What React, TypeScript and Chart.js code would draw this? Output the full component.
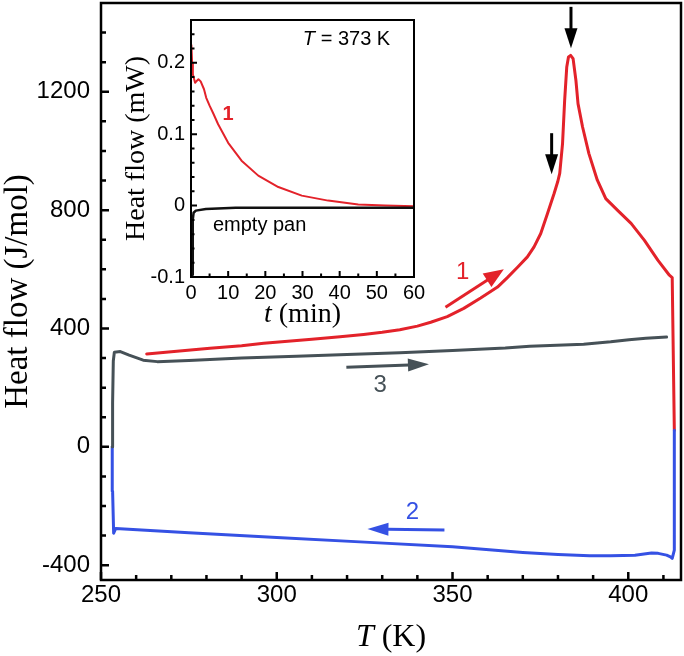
import React, { useEffect, useRef } from 'react';
import { Chart, registerables } from 'chart.js';

Chart.register(...registerables);

const RED = '#e3222a';
const BLUE = '#3551e4';
const GRAY = '#465157';
const SANS = "'Liberation Sans', Arial, sans-serif";
const SERIF = "'Liberation Serif', 'Times New Roman', serif";

// ---- main chart: curve 1 (heating, red)
const heatT = [263.0, 270, 281, 290, 296.3, 310, 318, 324.7, 330, 335, 340, 343.8, 348.5, 353.2, 358.0, 362.8, 365.6, 368.5, 371.3, 373.2, 375.1, 377.0, 378.9, 379.9, 380.5, 381.3, 381.9, 382.5, 383.0, 383.6, 384.3, 385.1, 385.7, 387.0, 388.8, 391.2, 393.6, 396.9, 400.8, 404.6, 408.4, 411.7, 412.5, 413.1];
const heatQ = [314, 321, 333, 342, 350, 364, 372, 380, 387, 396, 408, 421, 440, 468, 503, 540, 572, 607, 642, 676, 721, 788, 856, 895, 924, 1025, 1171, 1284, 1318, 1323, 1312, 1239, 1160, 1081, 991, 901, 839, 800, 755, 698, 631, 580, 572, 56];

// ---- curve 2 (cooling, blue)
const coolT = [413.1, 413.1, 412.5, 412.0, 410.9, 408.5, 406.6, 404.5, 401.9, 395, 389, 380, 370, 350, 325, 300, 275, 254.2, 253.6, 253.3, 253.2];
const coolQ = [56, -349, -377, -372, -366, -360, -359, -362, -366, -368, -368, -364, -357, -338, -322, -306, -290, -276, -292, -150, 0];

// ---- curve 3 (second heating, gray)
const reheatT = [253.2, 253.3, 253.5, 253.8, 255.5, 258, 262, 266, 275, 290, 305.6, 320, 335, 350, 365, 372, 387.3, 395, 400.2, 405, 410.9];
const reheatQ = [0, 150, 290, 320, 322, 310, 293, 288, 292, 300, 306, 312, 318, 326, 334, 340, 347, 355, 362, 367, 371];

const mainXTicks = [250, 300, 350, 400];
const mainXMinor = [260, 270, 280, 290, 310, 320, 330, 340, 360, 370, 380, 390, 410];
const mainYTicks = [-400, 0, 400, 800, 1200];
const mainYMinor = [-300, -200, -100, 100, 200, 300, 500, 600, 700, 900, 1000, 1100, 1300, 1400];

// ---- inset: isothermal at 373 K
const insetT1 = [0.1, 0.3, 0.5, 1.1, 1.6, 2.0, 2.6, 3.5, 4.1, 5.0, 6.0, 7.3, 10, 13.6, 18.1, 23.5, 29.8, 36.9, 45, 52.2, 60];
const insetQ1 = [0.225, 0.2, 0.184, 0.172, 0.175, 0.177, 0.174, 0.163, 0.151, 0.14, 0.129, 0.114, 0.088, 0.063, 0.042, 0.026, 0.014, 0.007, 0.0015, 0.0, -0.001];
const insetT0 = [0.4, 0.45, 0.5, 0.7, 1.3, 4, 12, 20, 30, 40, 50, 60];
const insetQ0 = [-0.097, -0.06, -0.02, -0.01, -0.007, -0.0046, -0.003, -0.003, -0.003, -0.003, -0.003, -0.003];

const insetXTicks = [0, 10, 20, 30, 40, 50, 60];
const insetXMinor = [5, 15, 25, 35, 45, 55];
const insetYTicks = [-0.1, 0, 0.1, 0.2];
const insetYMinor = [-0.08, -0.06, -0.04, -0.02, 0.02, 0.04, 0.06, 0.08, 0.12, 0.14, 0.16, 0.18, 0.22, 0.24];

// annotation arrows (data coordinates)
const mainArrows = [
  { from: [348.0, 472], to: [364.6, 600], color: RED, head: 20, half: 8 },
  { from: [319.8, 269], to: [343.3, 279], color: GRAY, head: 21, half: 6.5 },
  { from: [347.7, -281], to: [325.8, -278], color: BLUE, head: 21, half: 6.5 },
  { from: [383.7, 1487], to: [383.7, 1347], color: '#000', head: 20, half: 6.5 },
  { from: [378.2, 1060], to: [378.2, 921], color: '#000', head: 20, half: 6.5 },
];
const mainLabels = [
  { text: '1', at: [352.9, 590], color: RED },
  { text: '3', at: [329.4, 208], color: GRAY },
  { text: '2', at: [338.6, -221], color: BLUE },
];

type Part = { t: string; it?: boolean };

function drawRich(ctx: CanvasRenderingContext2D, parts: Part[], x: number, y: number, size: number, family: string, align: 'left' | 'center', color: string, rot = 0, weight = 'normal') {
  ctx.save();
  ctx.translate(x, y);
  ctx.rotate(rot);
  ctx.fillStyle = color;
  ctx.textBaseline = 'middle';
  ctx.textAlign = 'left';
  const fonts = parts.map((p) => `${p.it ? 'italic' : 'normal'} ${weight} ${size}px ${family}`);
  const widths = parts.map((p, i) => {
    ctx.font = fonts[i];
    return ctx.measureText(p.t).width;
  });
  const total = widths.reduce((a, b) => a + b, 0);
  let cx = align === 'center' ? -total / 2 : 0;
  parts.forEach((p, i) => {
    ctx.font = fonts[i];
    ctx.fillText(p.t, cx, 0);
    cx += widths[i];
  });
  ctx.restore();
}

function drawArrow(ctx: CanvasRenderingContext2D, x1: number, y1: number, x2: number, y2: number, color: string, lw: number, hl: number, hw: number) {
  const ang = Math.atan2(y2 - y1, x2 - x1);
  const bx = x2 - hl * Math.cos(ang);
  const by = y2 - hl * Math.sin(ang);
  ctx.strokeStyle = color;
  ctx.lineWidth = lw;
  ctx.beginPath();
  ctx.moveTo(x1, y1);
  ctx.lineTo(bx + Math.cos(ang), by + Math.sin(ang));
  ctx.stroke();
  ctx.fillStyle = color;
  ctx.beginPath();
  ctx.moveTo(x2, y2);
  ctx.lineTo(bx + hw * Math.sin(ang), by - hw * Math.cos(ang));
  ctx.lineTo(bx - hw * Math.sin(ang), by + hw * Math.cos(ang));
  ctx.closePath();
  ctx.fill();
}

function drawFrameTicks(chart: any, lw: number, majX: number[], minX: number[], majY: number[], minY: number[], majLen: number, minLen: number) {
  const { ctx, chartArea: a, scales } = chart;
  const sx = scales.x;
  const sy = scales.y;
  ctx.save();
  ctx.strokeStyle = '#000';
  ctx.lineWidth = lw;
  ctx.lineCap = 'butt';
  ctx.strokeRect(a.left, a.top, a.right - a.left, a.bottom - a.top);
  ctx.beginPath();
  const tx = (v: number, len: number) => {
    const p = sx.getPixelForValue(v);
    ctx.moveTo(p, a.bottom);
    ctx.lineTo(p, a.bottom - len);
  };
  const ty = (v: number, len: number) => {
    const p = sy.getPixelForValue(v);
    ctx.moveTo(a.left, p);
    ctx.lineTo(a.left + len, p);
  };
  majX.forEach((v) => tx(v, majLen));
  minX.forEach((v) => tx(v, minLen));
  majY.forEach((v) => ty(v, majLen));
  minY.forEach((v) => ty(v, minLen));
  ctx.stroke();
  ctx.restore();
}

const pts = (xs: number[], ys: number[]) => xs.map((x, i) => ({ x, y: ys[i] }));

const mainDecor = {
  id: 'mainDecor',
  afterDatasetsDraw(chart: any) {
    const { ctx, chartArea: a, scales } = chart;
    const sx = scales.x;
    const sy = scales.y;
    drawFrameTicks(chart, 2.5, mainXTicks, mainXMinor, mainYTicks, mainYMinor, 8, 5);
    ctx.save();
    mainArrows.forEach((ar) => {
      drawArrow(ctx, sx.getPixelForValue(ar.from[0]), sy.getPixelForValue(ar.from[1]), sx.getPixelForValue(ar.to[0]), sy.getPixelForValue(ar.to[1]), ar.color, 3, ar.head, ar.half);
    });
    mainLabels.forEach((lb) => {
      drawRich(ctx, [{ t: lb.text }], sx.getPixelForValue(lb.at[0]), sy.getPixelForValue(lb.at[1]), 24, SANS, 'center', lb.color);
    });
    drawRich(ctx, [{ t: 'Heat flow (J/mol)' }], a.left - 83, (a.top + a.bottom) / 2, 33, SERIF, 'center', '#000', -Math.PI / 2);
    drawRich(ctx, [{ t: 'T', it: true }, { t: ' (K)' }], (a.left + a.right) / 2, a.bottom + 58, 32, SERIF, 'center', '#000');
    ctx.restore();
  },
};

const insetDecor = {
  id: 'insetDecor',
  afterDatasetsDraw(chart: any) {
    const { ctx, chartArea: a, scales } = chart;
    const sx = scales.x;
    const sy = scales.y;
    drawFrameTicks(chart, 2, insetXTicks, insetXMinor, insetYTicks, insetYMinor, 6, 3.5);
    ctx.save();
    drawRich(ctx, [{ t: 'T', it: true }, { t: ' = 373 K' }], sx.getPixelForValue(30.1), sy.getPixelForValue(0.2325), 20, SANS, 'left', '#000');
    drawRich(ctx, [{ t: '1' }], sx.getPixelForValue(10.0), sy.getPixelForValue(0.128), 20, SANS, 'center', RED, 0, 'bold');
    drawRich(ctx, [{ t: 'empty pan' }], sx.getPixelForValue(5.9), sy.getPixelForValue(-0.028), 20, SANS, 'left', '#000');
    drawRich(ctx, [{ t: 'Heat flow (mW)' }], a.left - 54, (a.top + a.bottom) / 2, 28, SERIF, 'center', '#000', -Math.PI / 2);
    drawRich(ctx, [{ t: 't', it: true }, { t: ' (min)' }], (a.left + a.right) / 2, a.bottom + 38, 28, SERIF, 'center', '#000');
    ctx.restore();
  },
};

function lineDs(data: { x: number; y: number }[], color: string, width: number) {
  return {
    data,
    showLine: true,
    borderColor: color,
    backgroundColor: color,
    borderWidth: width,
    pointRadius: 0,
    fill: false,
    tension: 0,
    borderJoinStyle: 'round' as const,
    borderCapStyle: 'round' as const,
  };
}

function axis(min: number, max: number, ticks: number[], size: number, padding: number, fit: (s: any) => void) {
  return {
    type: 'linear' as const,
    min,
    max,
    afterBuildTicks: (s: any) => {
      s.ticks = ticks.map((v) => ({ value: v }));
    },
    afterFit: (s: any) => {
      fit(s);
      s.paddingTop = 0;
      s.paddingBottom = 0;
      s.paddingLeft = 0;
      s.paddingRight = 0;
    },
    grid: { display: false, drawTicks: false },
    border: { display: false },
    ticks: {
      color: '#000',
      font: { family: SANS, size },
      padding,
      autoSkip: false,
      maxRotation: 0,
      callback: (v: any) => String(v),
    },
  };
}

export default function App() {
  const mainRef = useRef<HTMLCanvasElement>(null);
  const insetRef = useRef<HTMLCanvasElement>(null);

  useEffect(() => {
    const main = new Chart(mainRef.current!, {
      type: 'scatter',
      data: {
        datasets: [
          lineDs(pts(reheatT, reheatQ), GRAY, 3),
          lineDs(pts(coolT, coolQ), BLUE, 3),
          lineDs(pts(heatT, heatQ), RED, 3),
        ],
      },
      options: {
        animation: false,
        responsive: false,
        events: [],
        layout: { padding: { left: 0, top: 3, right: 3, bottom: 0 } },
        plugins: { legend: { display: false }, tooltip: { enabled: false } },
        scales: {
          x: axis(250, 415, mainXTicks, 24, 1, (s) => { s.height = 76; }),
          y: axis(-450, 1500, mainYTicks, 24, 11, (s) => { s.width = 101; }),
        },
      } as any,
      plugins: [mainDecor],
    });
    const inset = new Chart(insetRef.current!, {
      type: 'scatter',
      data: {
        datasets: [
          lineDs(pts(insetT0, insetQ0), '#111', 2.5),
          lineDs(pts(insetT1, insetQ1), RED, 2),
        ],
      },
      options: {
        animation: false,
        responsive: false,
        events: [],
        layout: { padding: { left: 0, top: 20, right: 16, bottom: 0 } },
        plugins: { legend: { display: false }, tooltip: { enabled: false } },
        scales: {
          x: axis(0, 60, insetXTicks, 20, 4, (s) => { s.height = 63; }),
          y: axis(-0.1, 0.26, insetYTicks, 20, 6, (s) => { s.width = 91; }),
        },
      } as any,
      plugins: [insetDecor],
    });
    return () => {
      main.destroy();
      inset.destroy();
    };
  }, []);

  return (
    <div style={{ position: 'absolute', left: 0, top: 0, width: 684, height: 656, background: '#fff' }}>
      <canvas ref={mainRef} width={684} height={656} style={{ position: 'absolute', left: 0, top: 0 }} />
      <canvas ref={insetRef} width={330} height={340} style={{ position: 'absolute', left: 100, top: 0 }} />
    </div>
  );
}
